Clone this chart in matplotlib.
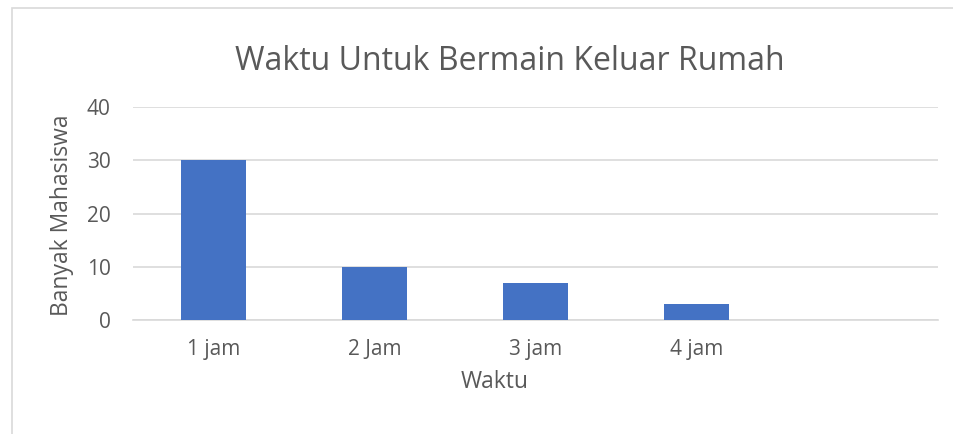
import matplotlib.pyplot as plt
from matplotlib.patches import Rectangle

categories = ['1 jam', '2 Jam', '3 jam', '4 jam', '']
values = [30, 10, 7, 3, 0]
yticks = [0, 10, 20, 30, 40]

plt.rcParams['font.family'] = ['Open Sans', 'DejaVu Sans']
grey = '#595959'

fig = plt.figure(figsize=(9.54, 4.34), dpi=100)
# chart frame
fig.patches.append(Rectangle((12 / 954, -0.01), 1.0, (434 - 8) / 434 + 0.01,
                             transform=fig.transFigure, fill=False,
                             edgecolor='#d9d9d9', linewidth=1.2))

ax = fig.add_axes([133 / 954, 114 / 434, 805 / 954, 213 / 434])
x = range(len(categories))
ax.bar(x[:4], values[:4], width=0.4, color='#4472c4', zorder=3)
ax.set_xlim(-0.5, len(categories) - 0.5)
ax.set_ylim(0, 40)
ax.set_yticks(yticks)
ax.set_xticks(list(x))
ax.set_xticklabels(categories)
ax.grid(axis='y', color='#d9d9d9', linewidth=1.2, zorder=0)
for s in ['top', 'right', 'left']:
    ax.spines[s].set_visible(False)
ax.spines['bottom'].set_color('#d9d9d9')
ax.spines['bottom'].set_linewidth(1.2)
ax.tick_params(length=0, labelsize=15, colors=grey)
ax.tick_params(axis='x', pad=14)
ax.tick_params(axis='y', pad=16)

fig.text(510 / 954, 1 - 62 / 434, 'Waktu Untuk Bermain Keluar Rumah',
         ha='center', va='center', fontsize=23, color=grey)
fig.text(495 / 954, 1 - 382 / 434, 'Waktu', ha='center', va='center',
         fontsize=16.5, color=grey)
fig.text(62 / 954, 1 - 215 / 434, 'Banyak Mahasiswa', ha='center', va='center',
         rotation=90, fontsize=16.5, color=grey)

fig.savefig('out.png', dpi=100)
